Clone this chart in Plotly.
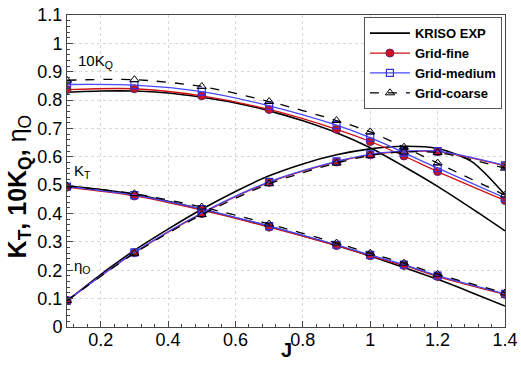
import plotly.graph_objects as go

# ---------------- data ----------------
J_cfd = [0.1, 0.3, 0.5, 0.7, 0.9, 1.0, 1.1, 1.2, 1.4]
J_exp = [0.1, 0.2, 0.3, 0.4, 0.5, 0.6, 0.7, 0.8, 0.9, 1.0, 1.1, 1.2, 1.3, 1.4]

# KRISO EXP
exp_kq10 = [0.828, 0.832, 0.832, 0.825, 0.810, 0.790, 0.762, 0.727, 0.685, 0.632, 0.566, 0.496, 0.419, 0.339]
exp_kt = [0.497, 0.485, 0.468, 0.443, 0.415, 0.385, 0.355, 0.322, 0.287, 0.250, 0.210, 0.168, 0.122, 0.074]
exp_eta = [0.092, 0.185, 0.270, 0.345, 0.415, 0.478, 0.533, 0.575, 0.607, 0.628, 0.637, 0.629, 0.584, 0.466]

# Grid-fine
fine_kq10 = [0.837, 0.840, 0.815, 0.767, 0.697, 0.654, 0.603, 0.548, 0.446]
fine_kt = [0.493, 0.462, 0.412, 0.352, 0.287, 0.251, 0.217, 0.178, 0.115]
fine_eta = [0.093, 0.262, 0.400, 0.510, 0.582, 0.607, 0.618, 0.618, 0.568]

# Grid-medium
med_kq10 = [0.855, 0.853, 0.830, 0.780, 0.712, 0.668, 0.615, 0.560, 0.455]
med_kt = [0.495, 0.465, 0.416, 0.356, 0.290, 0.254, 0.220, 0.181, 0.117]
med_eta = [0.093, 0.263, 0.402, 0.512, 0.584, 0.609, 0.620, 0.620, 0.570]

# Grid-coarse
coarse_kq10 = [0.870, 0.872, 0.848, 0.795, 0.728, 0.688, 0.634, 0.578, 0.465]
coarse_kt = [0.497, 0.470, 0.423, 0.363, 0.296, 0.260, 0.225, 0.186, 0.120]
coarse_eta = [0.093, 0.260, 0.396, 0.505, 0.578, 0.605, 0.617, 0.615, 0.560]

x_ticks = [0.2, 0.4, 0.6, 0.8, 1, 1.2, 1.4]
x_tick_labels = ["0.2", "0.4", "0.6", "0.8", "1", "1.2", "1.4"]
y_ticks = [0, 0.1, 0.2, 0.3, 0.4, 0.5, 0.6, 0.7, 0.8, 0.9, 1, 1.1]
y_tick_labels = ["0", "0.1", "0.2", "0.3", "0.4", "0.5", "0.6", "0.7", "0.8", "0.9", "1", "1.1"]

FONT = "Liberation Sans, Arial, sans-serif"

fig = go.Figure()

# experiment
for i, ys in enumerate([exp_kq10, exp_kt, exp_eta]):
    fig.add_trace(go.Scatter(
        x=J_exp, y=ys, mode="lines", name="KRISO EXP",
        line=dict(color="black", width=1.6, shape="spline", smoothing=0.8),
        legendgroup="exp", showlegend=(i == 0)))

series = [
    ("Grid-fine", [fine_kq10, fine_kt, fine_eta],
     dict(color="#d01010", width=1.3, shape="spline", smoothing=0.8),
     dict(symbol="circle", size=8, color="#d01020", line=dict(color="#602060", width=1))),
    ("Grid-medium", [med_kq10, med_kt, med_eta],
     dict(color="#4848ff", width=1.3, shape="spline", smoothing=0.8),
     dict(symbol="square-open", size=7, color="#3030e0", line=dict(width=1.2))),
    ("Grid-coarse", [coarse_kq10, coarse_kt, coarse_eta],
     dict(color="black", width=1.3, dash="dash", shape="spline", smoothing=0.8),
     dict(symbol="triangle-up-open", size=8, color="black", line=dict(width=1))),
]
for name, ylist, line, marker in series:
    for i, ys in enumerate(ylist):
        fig.add_trace(go.Scatter(
            x=J_cfd, y=ys, mode="lines+markers", name=name,
            line=line, marker=marker,
            legendgroup=name, showlegend=(i == 0)))

fig.add_annotation(x=0.185, y=0.935, text="10K<sub>Q</sub>", showarrow=False,
                   font=dict(family=FONT, size=15, color="black"))
fig.add_annotation(x=0.145, y=0.548, text="K<sub>T</sub>", showarrow=False,
                   font=dict(family=FONT, size=15, color="black"))
fig.add_annotation(x=0.145, y=0.212, text="η<sub>O</sub>", showarrow=False,
                   font=dict(family=FONT, size=15, color="black"))

# axis titles
fig.add_annotation(xref="paper", yref="paper", x=0.50, y=-0.074, text="<b>J</b>",
                   showarrow=False, xanchor="center", yanchor="middle",
                   font=dict(family=FONT, size=20, color="black"))
fig.add_annotation(xref="paper", yref="paper", x=-0.11, y=0.45,
                   text="<b>K<sub>T</sub>, 10K<sub>Q</sub>,</b> η<sub>O</sub>",
                   showarrow=False, textangle=-90, xanchor="center", yanchor="middle",
                   font=dict(family=FONT, size=25, color="black"))

fig.update_layout(
    width=521, height=367,
    margin=dict(l=67, r=16, t=15, b=40, autoexpand=False),
    paper_bgcolor="white", plot_bgcolor="white",
    font=dict(family=FONT, color="black"),
    legend=dict(x=0.993, y=0.993, xanchor="right", yanchor="top",
                bordercolor="#555555", borderwidth=1, bgcolor="white",
                font=dict(family=FONT, size=13, color="black", weight="bold"),
                tracegroupgap=0, itemwidth=40),
    showlegend=True,
)
fig.update_xaxes(
    range=[0.1, 1.4], tickvals=x_ticks, ticktext=x_tick_labels, automargin=False,
    ticks="inside", ticklen=6, tickcolor="#444", tickfont=dict(size=18, family=FONT),
    ticklabelstandoff=-4,
    minor=dict(dtick=0.04, tick0=0.2, ticks="inside", ticklen=3, tickcolor="#444", showgrid=False),
    showline=True, linecolor="#444", linewidth=1, mirror=True,
    showgrid=True, gridcolor="#d8d8d8", griddash="dot", gridwidth=1,
    zeroline=False,
)
fig.update_yaxes(
    range=[0, 1.1], tickvals=y_ticks, ticktext=y_tick_labels, automargin=False,
    ticks="inside", ticklen=6, tickcolor="#444", tickfont=dict(size=18, family=FONT),
    minor=dict(dtick=0.02, ticks="inside", ticklen=3, tickcolor="#444", showgrid=False),
    showline=True, linecolor="#444", linewidth=1, mirror=True,
    showgrid=True, gridcolor="#d8d8d8", griddash="dot", gridwidth=1,
    zeroline=False,
)

# remove the browser's default 8px body margin so the figure sits at the page origin
fig.write_html("out.html", config={"displayModeBar": False},
               post_script="document.body.style.margin='0';")
